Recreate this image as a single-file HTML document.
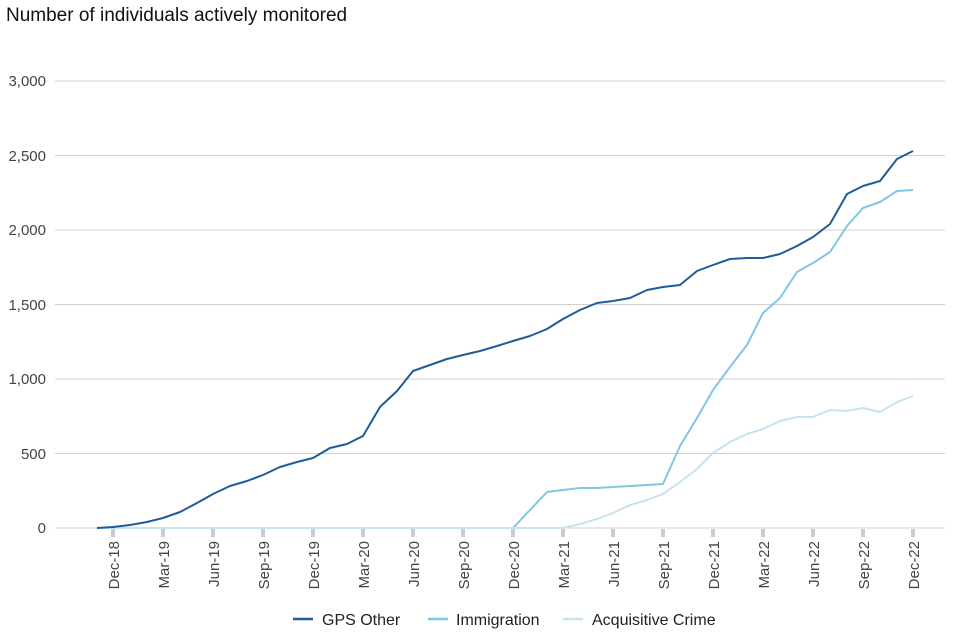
<!DOCTYPE html>
<html><head><style>body{margin:0;background:#fff;}svg{display:block;font-family:"Liberation Sans",sans-serif;}</style></head><body>
<svg width="960" height="640" viewBox="0 0 960 640">
<text x="6" y="21" font-size="19" fill="#111">Number of individuals actively monitored</text>
<g stroke="#d0d0d0" stroke-width="1">
<line x1="55" x2="945" y1="81" y2="81"/><line x1="55" x2="945" y1="155.5" y2="155.5"/><line x1="55" x2="945" y1="230" y2="230"/><line x1="55" x2="945" y1="304.5" y2="304.5"/><line x1="55" x2="945" y1="379" y2="379"/><line x1="55" x2="945" y1="453.5" y2="453.5"/><line x1="55" x2="945" y1="528" y2="528"/>
</g>
<g font-size="15" fill="#444" text-anchor="end">
<text x="46" y="86">3,000</text><text x="46" y="161">2,500</text><text x="46" y="235">2,000</text><text x="46" y="310">1,500</text><text x="46" y="384">1,000</text><text x="46" y="459">500</text><text x="46" y="533">0</text>
</g>
<g stroke="#cccccc" stroke-width="4">
<line x1="113" x2="113" y1="529" y2="537"/><line x1="163" x2="163" y1="529" y2="537"/><line x1="213" x2="213" y1="529" y2="537"/><line x1="263" x2="263" y1="529" y2="537"/><line x1="313" x2="313" y1="529" y2="537"/><line x1="363" x2="363" y1="529" y2="537"/><line x1="413" x2="413" y1="529" y2="537"/><line x1="463" x2="463" y1="529" y2="537"/><line x1="513" x2="513" y1="529" y2="537"/><line x1="563" x2="563" y1="529" y2="537"/><line x1="613" x2="613" y1="529" y2="537"/><line x1="663" x2="663" y1="529" y2="537"/><line x1="713" x2="713" y1="529" y2="537"/><line x1="763" x2="763" y1="529" y2="537"/><line x1="813" x2="813" y1="529" y2="537"/><line x1="863" x2="863" y1="529" y2="537"/><line x1="913" x2="913" y1="529" y2="537"/>
</g>
<g font-size="15" fill="#444" text-anchor="end">
<text transform="translate(119,541) rotate(-90)">Dec-18</text><text transform="translate(169,541) rotate(-90)">Mar-19</text><text transform="translate(219,541) rotate(-90)">Jun-19</text><text transform="translate(269,541) rotate(-90)">Sep-19</text><text transform="translate(319,541) rotate(-90)">Dec-19</text><text transform="translate(369,541) rotate(-90)">Mar-20</text><text transform="translate(419,541) rotate(-90)">Jun-20</text><text transform="translate(469,541) rotate(-90)">Sep-20</text><text transform="translate(519,541) rotate(-90)">Dec-20</text><text transform="translate(569,541) rotate(-90)">Mar-21</text><text transform="translate(619,541) rotate(-90)">Jun-21</text><text transform="translate(669,541) rotate(-90)">Sep-21</text><text transform="translate(719,541) rotate(-90)">Dec-21</text><text transform="translate(769,541) rotate(-90)">Mar-22</text><text transform="translate(819,541) rotate(-90)">Jun-22</text><text transform="translate(869,541) rotate(-90)">Sep-22</text><text transform="translate(919,541) rotate(-90)">Dec-22</text>
</g>
<g fill="none" stroke-width="2" stroke-linejoin="round">
<polyline stroke="#7ec8e3" points="513,528 530,510 547,492 563,490 580,488 597,488 613,487 630,486 647,485 663,484 680,446 697,418 713,390 730,367 747,345 763,313 780,298 797,272 813,263 830,252 847,226 863,208 880,202 897,191 913,190"/>
<polyline stroke="#c6e3ee" points="97,528 563,528 580,524 597,519 613,513 630,505 647,500 663,494 680,482 697,469 713,453 730,442 747,434 763,429 780,421 797,417 813,417 830,410 847,411 863,408 880,412 897,402 913,396"/>
<polyline stroke="#1f5c99" points="97,528 113,527 130,525 147,522 163,518 180,512 197,503 213,494 230,486 247,481 263,475 280,467 297,462 313,458 330,448 347,444 363,436 380,407 397,391 413,371 430,365 447,359 463,355 480,351 497,346 513,341 530,336 547,329 563,319 580,310 597,303 613,301 630,298 647,290 663,287 680,285 697,271 713,265 730,259 747,258 763,258 780,254 797,246 813,237 830,224 847,194 863,186 880,181 897,159 913,151"/>
</g>
<g font-size="16" fill="#222">
<line x1="293" x2="313" y1="619" y2="619" stroke="#1f5c99" stroke-width="2.5"/><text x="322" y="625">GPS Other</text>
<line x1="428" x2="448" y1="619" y2="619" stroke="#7ec8e3" stroke-width="2.5"/><text x="456" y="625">Immigration</text>
<line x1="563" x2="583" y1="619" y2="619" stroke="#c6e3ee" stroke-width="2.5"/><text x="592" y="625">Acquisitive Crime</text>
</g>
</svg>
</body></html>
